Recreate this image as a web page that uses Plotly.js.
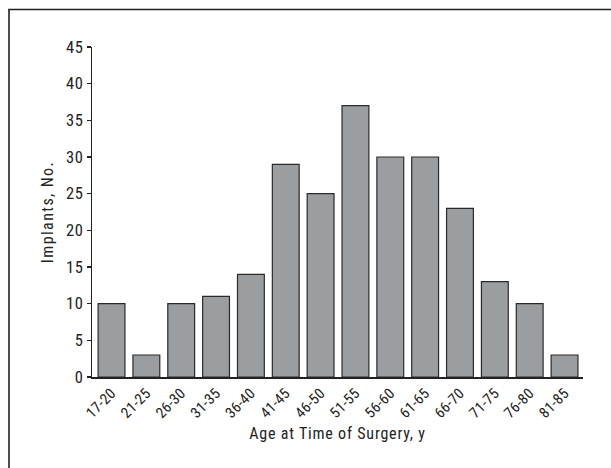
<!DOCTYPE html>
<html>
<head>
<meta charset="utf-8">
<script src="https://cdn.plot.ly/plotly-3.0.1.min.js"></script>
<style>
html,body{margin:0;padding:0;background:#fff;}
#chart{width:611px;height:468px;}
#chart .xtick text {letter-spacing: 0.3px;}
#chart .ytick text {letter-spacing: 0.4px;}
#chart text.xtitle {letter-spacing: 0.8px;}
#chart text.ytitle {letter-spacing: 1.4px;}
</style>
</head>
<body>
<div id="chart"></div>
<script>
var categories = ["17-20","21-25","26-30","31-35","36-40","41-45","46-50","51-55","56-60","61-65","66-70","71-75","76-80","81-85"];
var implants = [10, 3, 10, 11, 14, 29, 25, 37, 30, 30, 23, 13, 10, 3];
var yTicks = [0,5,10,15,20,25,30,35,40,45];

var fontFam = '"Roboto Condensed", "Liberation Sans Narrow", "Arial Narrow", sans-serif';

var W = 611, H = 468, mL = 92, mR = 28, mT = 47, mB = 91;
function px(x){ return (x - mL) / (W - mL - mR); }
function py(y){ return (H - mB - y) / (H - mT - mB); }

var trace = {
  type: 'bar',
  x: categories,
  y: implants,
  marker: {color: '#9b9ea1', line: {color: '#2a2a2a', width: 1.2}},
  hoverinfo: 'x+y'
};

var layout = {
  width: W, height: H,
  margin: {l: mL, r: mR, t: mT, b: mB, pad: 0},
  paper_bgcolor: '#ffffff',
  plot_bgcolor: '#ffffff',
  bargap: 0.23,
  showlegend: false,
  font: {family: fontFam, color: '#222', size: 13},
  xaxis: {
    type: 'category',
    range: [-0.56, 13.53],
    showline: true, linecolor: '#222', linewidth: 1.5,
    ticks: '', tickangle: -45,
    tickfont: {family: fontFam, size: 15, color: '#222'},
    showgrid: false, zeroline: false,
    title: {text: 'Age at Time of Surgery, y', font: {family: fontFam, size: 16, color: '#222'}, standoff: 8},
    fixedrange: true
  },
  yaxis: {
    range: [0, 45],
    tickvals: yTicks,
    ticktext: yTicks.map(String),
    showline: true, linecolor: '#222', linewidth: 1.5,
    ticks: 'outside', ticklen: 4, tickwidth: 1.2, tickcolor: '#222',
    tickfont: {family: fontFam, size: 16.5, color: '#222'},
    showgrid: false, zeroline: false,
    title: {text: 'Implants, No.', font: {family: fontFam, size: 16, color: '#222'}, standoff: 9},
    fixedrange: true
  },
  shapes: [
    {type: 'line', xref: 'paper', yref: 'paper', x0: px(9), x1: px(9), y0: py(9.5), y1: py(468), line: {color: '#222', width: 1.6}},
    {type: 'line', xref: 'paper', yref: 'paper', x0: px(8.2), x1: px(611), y0: py(9.5), y1: py(9.5), line: {color: '#222', width: 1.6}}
  ]
};

Plotly.newPlot('chart', [trace], layout, {displayModeBar: false, staticPlot: true});
</script>
</body>
</html>
